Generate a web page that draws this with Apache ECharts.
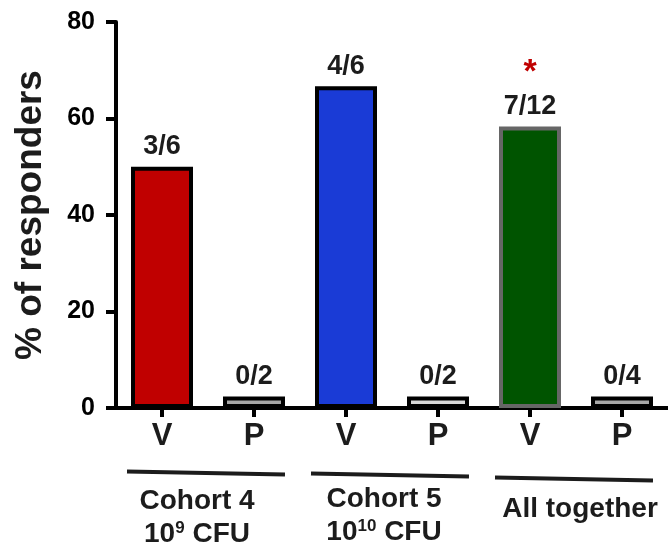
<!DOCTYPE html>
<html>
<head>
<meta charset="utf-8">
<script src="https://cdn.jsdelivr.net/npm/echarts@6/dist/echarts.min.js"></script>
<style>html,body{margin:0;padding:0;background:#fff}#c{width:668px;height:550px}</style>
</head>
<body>
<div id="c"></div>
<script>
const categories = ['V', 'P', 'V', 'P', 'V', 'P'];
const values = [50, 2.4, 66.67, 2.4, 58.33, 2.4];
const barLabels = ['3/6', '0/2', '4/6', '0/2', '7/12', '0/4'];
const significance = ['', '', '', '', '*', ''];
const fillColors = ['#c00000', '#a6a6a6', '#1a3bd6', '#d9d9d9', '#005400', '#a8a8a8'];
const borderColors = ['#000', '#000', '#000', '#000', '#666666', '#000'];
const yTicks = [0, 20, 40, 60, 80];
const groups = [
  { from: 0, to: 1, lines: ['Cohort 4', '10{sup|9} CFU'] },
  { from: 2, to: 3, lines: ['Cohort 5', '10{sup|10} CFU'] },
  { from: 4, to: 5, lines: ['All together'] }
];

const FONT = '"Liberation Sans", Arial, sans-serif';
const chart = echarts.init(document.getElementById('c'), null, { renderer: 'canvas' });

const option = {
  animation: false,
  backgroundColor: '#fff',
  grid: { left: 116, right: 0, top: 22, bottom: 142, containLabel: false, outerBoundsMode: 'none' },
  xAxis: {
    type: 'category',
    data: categories,
    axisLine: { lineStyle: { color: '#000', width: 4 } },
    axisTick: { show: true, alignWithLabel: true, length: 9, lineStyle: { color: '#000', width: 4 } },
    axisLabel: { color: '#1c1c1c', fontFamily: FONT, fontWeight: 'bold', fontSize: 31, margin: 13 }
  },
  yAxis: {
    type: 'value',
    min: yTicks[0], max: yTicks[yTicks.length - 1], interval: 20,
    name: '% of responders',
    nameLocation: 'middle',
    nameRotate: 90,
    nameGap: 67,
    nameTextStyle: { color: '#1c1c1c', fontFamily: FONT, fontWeight: 'bold', fontSize: 37 },
    axisLine: { show: true, lineStyle: { color: '#000', width: 4 } },
    axisTick: { show: true, length: 10, lineStyle: { color: '#000', width: 4 } },
    splitLine: { show: false },
    axisLabel: { color: '#000', fontFamily: FONT, fontWeight: 'bold', fontSize: 25, margin: 21 }
  },
  series: [{
    type: 'bar',
    barWidth: 62,
    data: values.map((v, i) => ({
      value: v,
      itemStyle: { color: fillColors[i], borderColor: borderColors[i], borderWidth: 4 }
    })),
    label: {
      show: true,
      position: 'top',
      distance: 6,
      formatter: p => significance[p.dataIndex]
        ? '{star|' + significance[p.dataIndex] + '}\n{lab|' + barLabels[p.dataIndex] + '}'
        : '{lab|' + barLabels[p.dataIndex] + '}',
      rich: {
        lab: { color: '#1c1c1c', fontFamily: FONT, fontWeight: 'bold', fontSize: 27, lineHeight: 28 },
        star: { color: '#c00000', fontFamily: FONT, fontWeight: 'bold', fontSize: 34, lineHeight: 40 }
      }
    }
  }]
};
chart.setOption(option);

// group annotations below the axis
const graphics = [];
const lineY = [473, 475, 479];
const textY = [[501, 534], [499, 532], [509]];
const textDx = [-11, -8, 4];
groups.forEach((g, gi) => {
  const x1 = chart.convertToPixel({ xAxisIndex: 0 }, g.from);
  const x2 = chart.convertToPixel({ xAxisIndex: 0 }, g.to);
  const cx = (x1 + x2) / 2;
  graphics.push({
    type: 'line',
    shape: { x1: x1 - 35, y1: lineY[gi] - 1.5, x2: x2 + 31, y2: lineY[gi] + 1.5 },
    style: { stroke: '#1c1c1c', lineWidth: 4 }
  });
  g.lines.forEach((t, li) => {
    graphics.push({
      type: 'text',
      x: cx + textDx[gi],
      y: textY[gi][li],
      style: {
        text: t,
        x: 0, y: 0,
        align: 'center', verticalAlign: 'middle',
        fill: '#1c1c1c',
        font: 'bold 28px ' + FONT,
        rich: {
          sup: { fontSize: 17, fontWeight: 'bold', fontFamily: FONT, fill: '#1c1c1c', verticalAlign: 'top', padding: [0, 0, 12, 0] }
        }
      }
    });
  });
});
chart.setOption({ graphic: graphics });
</script>
</body>
</html>
